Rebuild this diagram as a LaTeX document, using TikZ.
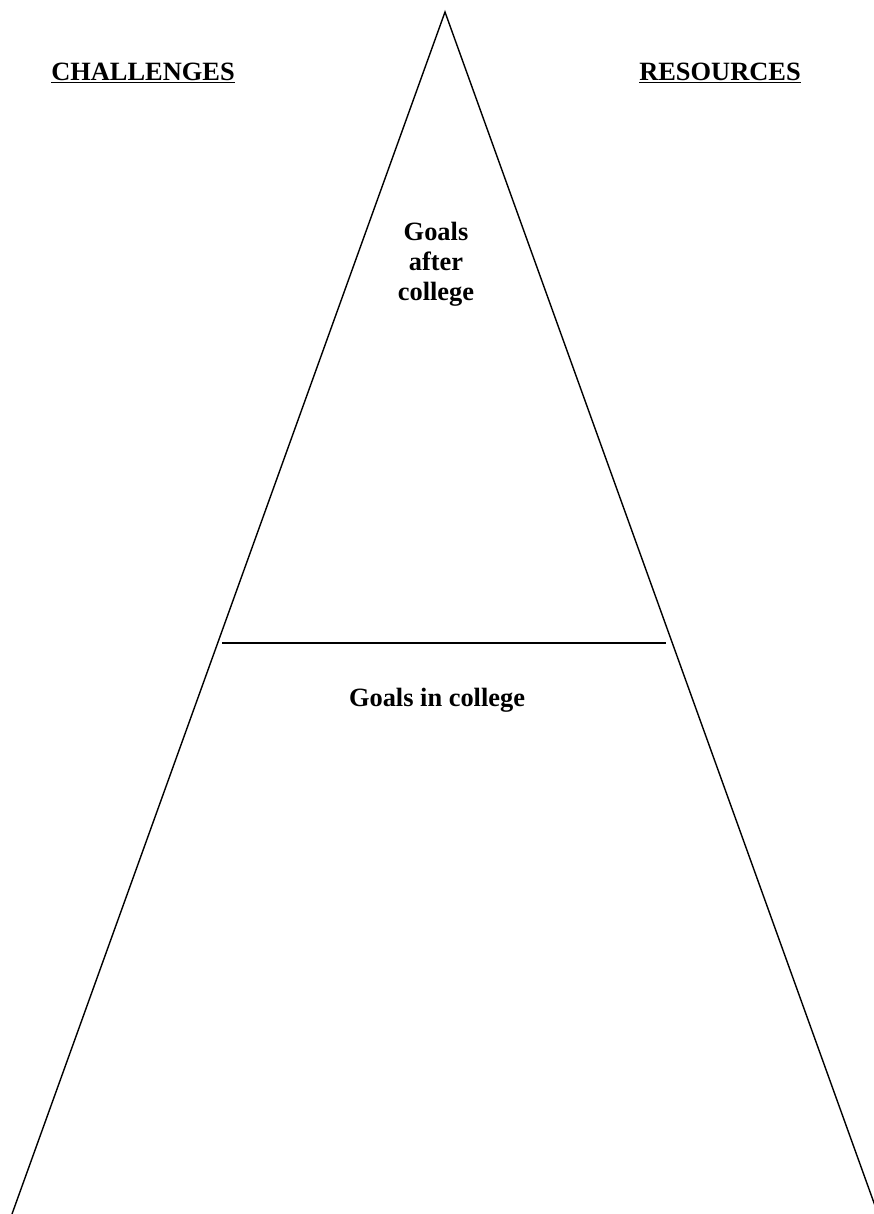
\documentclass[tikz,border=0pt]{standalone}
\usepackage{fontspec}
\setmainfont{Liberation Serif}
\usepackage{tikz}
\usetikzlibrary{positioning,calc}
\tikzset{
  side/.style  = {draw=black, line width=1.4pt},
  head/.style  = {font=\fontsize{26.4}{30}\selectfont\bfseries, inner sep=0pt, anchor=base},
  goal/.style  = {font=\fontsize{26.4}{30}\selectfont\bfseries, inner sep=0pt, align=center},
}
\begin{document}
\begin{tikzpicture}[x=1pt, y=-1pt]
  \useasboundingbox (0,0) rectangle (874,1214);
  % corners of the pyramid
  \coordinate (apex)  at (445,12);
  \coordinate (baseL) at (12,1214);
  \coordinate (baseR) at (878,1214);
  \coordinate (midL)  at (222,643);
  \coordinate (midR)  at (666,643);
  % sides and divider
  \draw[side] (baseL) -- (apex) -- (baseR);
  \draw[side] (midL) -- (midR);
  % headings
  \node[head] (CH) at (143,81) {\underline{CHALLENGES}};
  \node[head] (RS) at (720,81) {\underline{RESOURCES}};
  % goals
  \node[goal] (GA) at (436,264) {Goals\\after\\college};
  \node[goal, anchor=base] (GI) at (437,706) {Goals in college};
\end{tikzpicture}
\end{document}
